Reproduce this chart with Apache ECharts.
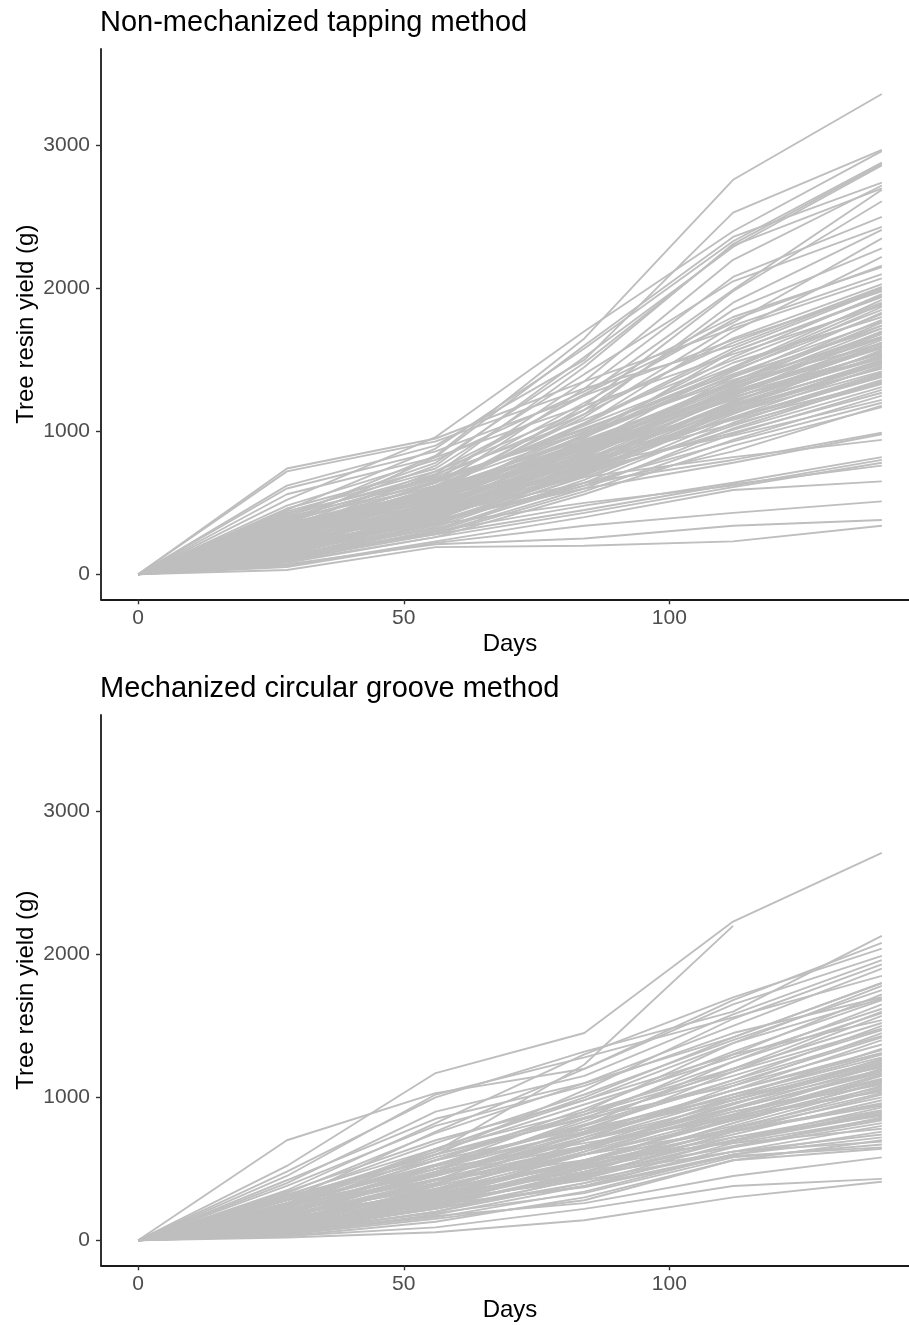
<!DOCTYPE html>
<html>
<head>
<meta charset="utf-8">
<title>Tree resin yield by tapping method</title>
<script src="https://cdn.jsdelivr.net/npm/echarts@6/dist/echarts.min.js"></script>
<style>
  html, body { margin: 0; padding: 0; background: #ffffff; }
  #chart { width: 909px; height: 1325px; }
</style>
</head>
<body>
<div id="chart"></div>
<script>
// Sampling days (cumulative resin collected per tree)
const days = [0, 28, 56, 84, 112, 140];

// Tick labels
const dayTicks = [0, 50, 100];
const yieldTicks = [0, 1000, 2000, 3000];

// Panel titles
const panelTitles = ['Non-mechanized tapping method', 'Mechanized circular groove method'];

// Cumulative yield (g) of each tree, non-mechanized tapping
const nonMechTrees = [
  [0, 400, 830, 1650, 2760, 3360],
  [0, 620, 900, 1500, 2530, 2970],
  [0, 520, 960, 1700, 2400, 2960],
  [0, 450, 880, 1580, 2330, 2880],
  [0, 300, 700, 1450, 2310, 2870],
  [0, 380, 760, 1520, 2290, 2860],
  [0, 350, 820, 1600, 2360, 2740],
  [0, 280, 650, 1350, 2200, 2720],
  [0, 420, 780, 1480, 2300, 2700],
  [0, 330, 720, 1250, 1990, 2690],
  [0, 240, 560, 1180, 1980, 2610],
  [0, 300, 610, 1300, 2080, 2500],
  [0, 460, 740, 1400, 2050, 2430],
  [0, 200, 580, 1120, 1900, 2410],
  [0, 360, 690, 1260, 1760, 2350],
  [0, 250, 600, 1150, 1850, 2280],
  [0, 190, 520, 1050, 1700, 2220],
  [0, 310, 640, 1200, 1780, 2160],
  [0, 270, 590, 1100, 1740, 2100],
  [0, 740, 950, 1350, 1720, 2070],
  [0, 720, 930, 1300, 1600, 2000],
  [0, 600, 860, 1250, 1640, 1980],
  [0, 230, 500, 980, 1520, 1960],
  [0, 340, 620, 1050, 1560, 1940],
  [0, 180, 470, 900, 1450, 1920],
  [0, 410, 700, 1080, 1500, 1900],
  [0, 290, 540, 960, 1420, 1870],
  [0, 150, 430, 850, 1380, 1830],
  [0, 260, 560, 1000, 1480, 1800],
  [0, 370, 650, 1020, 1400, 1770],
  [0, 210, 480, 880, 1350, 1740],
  [0, 320, 600, 940, 1320, 1720],
  [0, 160, 420, 820, 1290, 1700],
  [0, 280, 520, 900, 1310, 1680],
  [0, 430, 670, 990, 1360, 1660],
  [0, 200, 450, 800, 1250, 1640],
  [0, 140, 380, 760, 1200, 1620],
  [0, 350, 580, 920, 1280, 1600],
  [0, 240, 470, 830, 1230, 1590],
  [0, 120, 360, 720, 1160, 1570],
  [0, 300, 540, 870, 1240, 1550],
  [0, 190, 410, 770, 1190, 1530],
  [0, 390, 610, 900, 1220, 1510],
  [0, 110, 330, 690, 1120, 1500],
  [0, 260, 490, 810, 1150, 1480],
  [0, 170, 390, 730, 1100, 1460],
  [0, 330, 560, 850, 1170, 1440],
  [0, 220, 440, 760, 1130, 1420],
  [0, 90, 300, 640, 1060, 1400],
  [0, 280, 500, 790, 1090, 1380],
  [0, 150, 350, 680, 1040, 1360],
  [0, 360, 580, 820, 1080, 1340],
  [0, 200, 400, 700, 1010, 1310],
  [0, 130, 320, 620, 980, 1290],
  [0, 250, 450, 720, 990, 1270],
  [0, 100, 280, 580, 940, 1250],
  [0, 310, 520, 760, 970, 1220],
  [0, 180, 360, 640, 930, 1200],
  [0, 80, 260, 560, 900, 1170],
  [0, 230, 420, 640, 800, 990],
  [0, 160, 380, 600, 780, 980],
  [0, 290, 470, 680, 820, 940],
  [0, 120, 300, 480, 640, 820],
  [0, 200, 350, 500, 620, 800],
  [0, 90, 260, 430, 610, 780],
  [0, 140, 280, 450, 630, 760],
  [0, 60, 230, 400, 590, 650],
  [0, 50, 220, 340, 430, 510],
  [0, 70, 210, 250, 340, 380],
  [0, 30, 190, 200, 230, 340],
  [0, 210, 470, 860, 1300, 1650],
  [0, 330, 590, 960, 1390, 1720],
  [0, 170, 420, 790, 1210, 1560],
  [0, 260, 530, 910, 1340, 1610],
  [0, 120, 340, 740, 1180, 1490],
  [0, 380, 640, 1040, 1450, 1850],
  [0, 230, 480, 840, 1260, 1540],
  [0, 150, 370, 700, 1140, 1450],
  [0, 300, 560, 930, 1330, 1690],
  [0, 190, 450, 820, 1270, 1580],
  [0, 270, 610, 1060, 1580, 1990],
  [0, 440, 720, 1150, 1620, 2010],
  [0, 100, 310, 660, 1090, 1410],
  [0, 350, 540, 780, 1050, 1330],
  [0, 210, 430, 740, 1100, 1390],
  [0, 480, 800, 1280, 1800, 2150],
  [0, 160, 440, 950, 1560, 1950],
  [0, 390, 680, 1120, 1650, 2030],
  [0, 250, 380, 620, 860, 1180],
  [0, 560, 820, 1180, 1540, 1880],
  [0, 220, 510, 890, 1330, 1760],
  [0, 310, 570, 900, 1280, 1620],
  [0, 180, 400, 760, 1210, 1530],
  [0, 270, 520, 880, 1270, 1590],
  [0, 140, 390, 780, 1250, 1700],
  [0, 350, 620, 990, 1380, 1740],
  [0, 200, 460, 840, 1300, 1660],
  [0, 400, 660, 1010, 1430, 1820],
  [0, 240, 500, 860, 1240, 1520],
  [0, 130, 350, 710, 1150, 1470],
  [0, 290, 550, 920, 1350, 1780],
  [0, 170, 410, 750, 1170, 1500],
  [0, 320, 580, 970, 1440, 1890],
  [0, 210, 440, 790, 1190, 1480],
  [0, 110, 290, 600, 1020, 1350]
];

// Cumulative yield (g) of each tree, mechanized circular groove (null = not recorded)
const mechTrees = [
  [0, 520, 1170, 1450, 2230, 2710],
  [0, 250, 620, 1230, 2200, null],
  [0, 480, 1000, 1320, 1600, 2130],
  [0, 700, 1030, 1200, 1680, 2080],
  [0, 350, 820, 1300, 1700, 2040],
  [0, 280, 760, 1200, 1650, 1990],
  [0, 400, 900, 1150, 1580, 1960],
  [0, 220, 600, 1050, 1550, 1930],
  [0, 330, 750, 1100, 1500, 1900],
  [0, 450, 1020, 1280, 1560, 1850],
  [0, 260, 640, 1000, 1420, 1800],
  [0, 180, 520, 900, 1380, 1780],
  [0, 310, 680, 1020, 1400, 1750],
  [0, 150, 480, 850, 1300, 1720],
  [0, 380, 800, 1080, 1450, 1700],
  [0, 240, 560, 920, 1320, 1680],
  [0, 120, 420, 800, 1250, 1650],
  [0, 290, 620, 950, 1280, 1620],
  [0, 200, 500, 830, 1200, 1600],
  [0, 100, 380, 760, 1180, 1570],
  [0, 340, 700, 980, 1300, 1540],
  [0, 170, 460, 780, 1120, 1500],
  [0, 260, 580, 860, 1150, 1470],
  [0, 80, 330, 700, 1080, 1450],
  [0, 210, 520, 800, 1100, 1420],
  [0, 140, 400, 720, 1050, 1400],
  [0, 300, 600, 850, 1080, 1370],
  [0, 60, 280, 620, 1000, 1340],
  [0, 190, 450, 740, 1020, 1300],
  [0, 110, 360, 640, 950, 1270],
  [0, 250, 520, 760, 980, 1250],
  [0, 160, 400, 660, 930, 1220],
  [0, 40, 240, 540, 880, 1200],
  [0, 230, 480, 700, 920, 1180],
  [0, 130, 340, 600, 870, 1160],
  [0, 90, 300, 560, 850, 1150],
  [0, 200, 430, 650, 880, 1130],
  [0, 70, 260, 500, 820, 1110],
  [0, 170, 380, 600, 840, 1100],
  [0, 120, 320, 550, 800, 1080],
  [0, 280, 500, 680, 850, 1050],
  [0, 50, 200, 440, 760, 1020],
  [0, 150, 340, 560, 780, 1000],
  [0, 100, 280, 500, 740, 980],
  [0, 220, 420, 600, 770, 950],
  [0, 60, 220, 430, 700, 930],
  [0, 130, 300, 500, 700, 900],
  [0, 190, 360, 530, 690, 880],
  [0, 40, 180, 380, 650, 860],
  [0, 110, 260, 440, 660, 840],
  [0, 160, 320, 480, 650, 820],
  [0, 80, 220, 400, 620, 800],
  [0, 250, 420, 560, 680, 780],
  [0, 50, 160, 340, 600, 760],
  [0, 140, 280, 420, 620, 740],
  [0, 90, 230, 380, 600, 720],
  [0, 30, 130, 300, 560, 700],
  [0, 180, 330, 460, 620, 690],
  [0, 70, 190, 330, 580, 670],
  [0, 120, 250, 370, 590, 650],
  [0, 40, 150, 280, 560, 640],
  [0, 60, 170, 260, 450, 580],
  [0, 30, 90, 220, 380, 430],
  [0, 20, 56, 140, 300, 410],
  [0, 230, 560, 880, 1250, 1590],
  [0, 170, 420, 700, 1000, 1260],
  [0, 310, 560, 780, 1000, 1210],
  [0, 90, 310, 600, 920, 1190],
  [0, 200, 470, 750, 1050, 1330],
  [0, 140, 360, 620, 900, 1120],
  [0, 60, 240, 480, 780, 1060],
  [0, 260, 460, 660, 870, 1040],
  [0, 110, 290, 520, 760, 940],
  [0, 180, 400, 640, 900, 1090],
  [0, 80, 250, 460, 720, 910],
  [0, 150, 350, 530, 720, 870],
  [0, 50, 200, 400, 680, 850],
  [0, 420, 850, 1100, 1420, 1800],
  [0, 240, 640, 980, 1380, 1690],
  [0, 100, 340, 660, 980, 1240],
  [0, 200, 450, 720, 1020, 1280],
  [0, 130, 360, 640, 960, 1230],
  [0, 260, 530, 810, 1120, 1430],
  [0, 90, 280, 540, 860, 1120],
  [0, 170, 390, 650, 920, 1170],
  [0, 320, 640, 900, 1200, 1520],
  [0, 60, 230, 470, 790, 1030],
  [0, 210, 460, 700, 960, 1190],
  [0, 120, 310, 560, 840, 1070],
  [0, 280, 600, 880, 1180, 1480],
  [0, 150, 330, 540, 760, 960],
  [0, 80, 270, 510, 820, 1110],
  [0, 230, 500, 760, 1050, 1310],
  [0, 100, 250, 450, 700, 890]
];

const FONT = '"Liberation Sans", Arial, Helvetica, sans-serif';
const LINE_COLOR = '#bebebe';

// Panel geometry (pixels)
const panelLeft = 101;
const panelWidth = 818;
const panelHeight = 550.3;
const panelTops = [49, 715];

function plainNumber(v) { return String(v); }

function makeXAxis(gridIndex) {
  return {
    type: 'value', gridIndex: gridIndex,
    min: -7, max: 147,
    name: 'Days', nameLocation: 'middle', nameGap: 33, nameMoveOverlap: false,
    nameTextStyle: { color: '#000000', fontSize: 24, fontFamily: FONT },
    axisLine: { show: true, onZero: false, lineStyle: { color: '#1a1a1a', width: 1.8 } },
    axisTick: { show: true, length: 5, lineStyle: { color: '#333333', width: 1.4 }, customValues: dayTicks },
    axisLabel: { color: '#4d4d4d', fontSize: 21, fontFamily: FONT, margin: 8, customValues: dayTicks, formatter: plainNumber },
    splitLine: { show: false }
  };
}

function makeYAxis(gridIndex) {
  return {
    type: 'value', gridIndex: gridIndex,
    min: -175, max: 3675,
    name: 'Tree resin yield (g)', nameLocation: 'middle', nameGap: 63, nameMoveOverlap: false,
    nameTextStyle: { color: '#000000', fontSize: 24, fontFamily: FONT },
    axisLine: { show: true, onZero: false, lineStyle: { color: '#1a1a1a', width: 1.8 } },
    axisTick: { show: true, length: 5, lineStyle: { color: '#333333', width: 1.4 }, customValues: yieldTicks },
    axisLabel: { color: '#4d4d4d', fontSize: 21, fontFamily: FONT, margin: 11, customValues: yieldTicks, formatter: plainNumber },
    splitLine: { show: false }
  };
}

function treeSeries(trees, panelIndex) {
  return trees.map(function (tree) {
    const points = [];
    days.forEach(function (d, i) {
      if (tree[i] !== null && tree[i] !== undefined) points.push([d, tree[i]]);
    });
    return {
      type: 'line',
      xAxisIndex: panelIndex, yAxisIndex: panelIndex,
      data: points,
      symbol: 'none', showSymbol: false,
      silent: true,
      lineStyle: { color: LINE_COLOR, width: 1.9 },
      emphasis: { disabled: true }
    };
  });
}

const chart = echarts.init(document.getElementById('chart'), null, { renderer: 'canvas' });

chart.setOption({
  animation: false,
  backgroundColor: '#ffffff',
  title: panelTitles.map(function (text, i) {
    return {
      text: text, left: panelLeft - 1, top: panelTops[i] - 42, padding: 0,
      textStyle: { color: '#000000', fontSize: 29, fontWeight: 'normal', fontFamily: FONT, lineHeight: 32 }
    };
  }),
  grid: panelTops.map(function (top) {
    return { left: panelLeft, top: top, width: panelWidth, height: panelHeight, containLabel: false, outerBoundsMode: 'none' };
  }),
  xAxis: [makeXAxis(0), makeXAxis(1)],
  yAxis: [makeYAxis(0), makeYAxis(1)],
  series: treeSeries(nonMechTrees, 0).concat(treeSeries(mechTrees, 1))
});
</script>
</body>
</html>
